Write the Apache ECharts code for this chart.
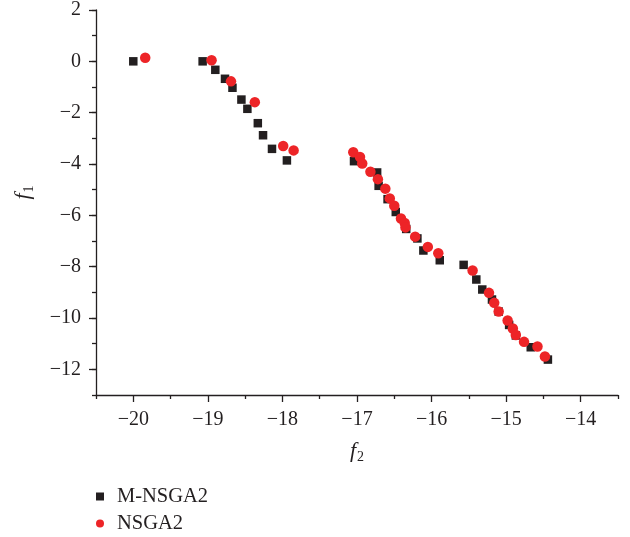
<!DOCTYPE html>
<html>
<head>
<meta charset="utf-8">
<script src="https://cdn.jsdelivr.net/npm/echarts@6/dist/echarts.min.js"></script>
<style>html,body{margin:0;padding:0;background:#fff}#c{width:630px;height:537px}</style>
</head>
<body>
<div id="c"></div>
<script>
// M-NSGA2 points [f2, f1]
const mnsga2 = [
  [-20.00, 0.00], [-19.07, 0.00], [-18.90, -0.33], [-18.77, -0.68], [-18.67, -1.03],
  [-18.55, -1.49], [-18.47, -1.85], [-18.33, -2.41], [-18.26, -2.88], [-18.14, -3.41],
  [-17.94, -3.86], [-17.04, -3.89], [-16.73, -4.33], [-16.71, -4.85], [-16.59, -5.37],
  [-16.48, -5.87], [-16.34, -6.53], [-16.19, -6.90], [-16.11, -7.37], [-15.89, -7.75],
  [-15.57, -7.93], [-15.40, -8.50], [-15.32, -8.89], [-15.19, -9.28], [-15.10, -9.75],
  [-14.96, -10.27], [-14.87, -10.68], [-14.67, -11.14], [-14.44, -11.62]
];
// NSGA2 points [f2, f1]
const nsga2 = [
  [-19.84, 0.14], [-18.95, 0.04], [-18.69, -0.78], [-18.37, -1.59], [-17.99, -3.30],
  [-17.85, -3.47], [-17.05, -3.54], [-16.96, -3.73], [-16.93, -3.98], [-16.82, -4.30],
  [-16.72, -4.59], [-16.62, -4.96], [-16.56, -5.34], [-16.50, -5.63], [-16.41, -6.12],
  [-16.36, -6.30], [-16.35, -6.47], [-16.22, -6.83], [-16.05, -7.23], [-15.91, -7.48],
  [-15.45, -8.15], [-15.23, -9.02], [-15.16, -9.41], [-15.10, -9.75], [-14.98, -10.10],
  [-14.91, -10.41], [-14.87, -10.66], [-14.76, -10.93], [-14.58, -11.11], [-14.48, -11.50]
];
const xTicks = [-20, -19, -18, -17, -16, -15, -14];
const yTicks = [-12, -10, -8, -6, -4, -2, 0, 2];
const xMin = -20.5, xMax = -13.5, yMin = -13, yMax = 2;

const FONT = '"Liberation Serif", "DejaVu Serif", serif';
const INK = '#231f20';
const labelFmt = v => (v < 0 ? '\u2212' + Math.abs(v) : String(v));

const chart = echarts.init(document.getElementById('c'), null, {renderer: 'canvas'});
chart.setOption({
  animation: false,
  grid: {left: 96, right: 12, top: 10, bottom: 142, containLabel: false, outerBoundsMode: 'none'},
  xAxis: [{
    type: 'value', min: xMin, max: xMax, interval: 1,
    axisLine: {show: true, onZero: false, lineStyle: {color: INK, width: 1.3}},
    axisTick: {show: true, inside: false, length: 7, customValues: xTicks, lineStyle: {color: INK, width: 1.3}},
    axisLabel: {customValues: xTicks, formatter: labelFmt, margin: 15, fontSize: 20, fontFamily: FONT, color: INK},
    splitLine: {show: false},
    name: '{i|f}{s|2}', nameLocation: 'middle', nameGap: 43,
    nameTextStyle: {fontFamily: FONT, color: INK, rich: {
      i: {fontFamily: FONT, fontStyle: 'italic', fontSize: 22, color: INK, lineHeight: 26},
      s: {fontFamily: FONT, fontSize: 14, color: INK, lineHeight: 26, padding: [12, 0, 0, 1]}
    }}
  }, {
    type: 'value', min: xMin, max: xMax, interval: 1, position: 'bottom',
    axisLine: {show: false, onZero: false},
    axisTick: {show: true, length: 4, lineStyle: {color: INK, width: 1.3}},
    axisLabel: {show: false}, splitLine: {show: false}
  }],
  yAxis: [{
    type: 'value', min: yMin, max: yMax, interval: 2,
    axisLine: {show: true, onZero: false, lineStyle: {color: INK, width: 1.3}},
    axisTick: {show: true, inside: false, length: 7, customValues: yTicks, lineStyle: {color: INK, width: 1.3}},
    axisLabel: {customValues: yTicks, formatter: labelFmt, margin: 15, fontSize: 20, fontFamily: FONT, color: INK},
    splitLine: {show: false},
    name: '{i|f}{s|1}', nameLocation: 'middle', nameGap: 60, nameRotate: 90,
    nameTextStyle: {fontFamily: FONT, color: INK, padding: [0, 0, 0, 20], rich: {
      i: {fontFamily: FONT, fontStyle: 'italic', fontSize: 22, color: INK, lineHeight: 26},
      s: {fontFamily: FONT, fontSize: 14, color: INK, lineHeight: 26, padding: [12, 0, 0, 1]}
    }}
  }, {
    type: 'value', min: yMin, max: yMax, interval: 1, position: 'left',
    axisLine: {show: false, onZero: false},
    axisTick: {show: true, length: 4, lineStyle: {color: INK, width: 1.3}},
    axisLabel: {show: false}, splitLine: {show: false}
  }],
  legend: {
    orient: 'vertical', left: 96, top: 486, height: 60, padding: 0,
    itemWidth: 8, itemHeight: 8, itemGap: 6,
    textStyle: {fontFamily: FONT, fontSize: 20.5, lineHeight: 20, color: INK, padding: [0, 0, 0, 8]},
    data: [{name: 'M-NSGA2', icon: 'rect'}, {name: 'NSGA2', icon: 'circle'}]
  },
  series: [{
    name: 'M-NSGA2', type: 'scatter', xAxisIndex: 0, yAxisIndex: 0,
    symbol: 'rect', symbolSize: 8.5, data: mnsga2,
    itemStyle: {color: INK, opacity: 1}
  }, {
    name: 'NSGA2', type: 'scatter', xAxisIndex: 0, yAxisIndex: 0,
    symbol: 'circle', symbolSize: 10.5, data: nsga2,
    itemStyle: {color: '#ed2427', opacity: 1}
  }]
});
</script>
</body>
</html>
